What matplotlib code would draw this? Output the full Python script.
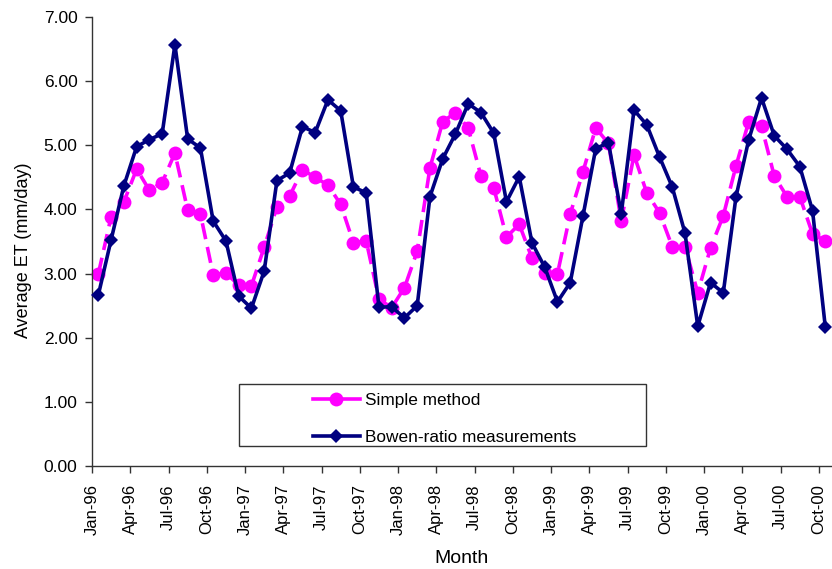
import numpy as np
import matplotlib
matplotlib.use("Agg")
import matplotlib.pyplot as plt
from matplotlib.patches import Rectangle

# monthly average ET, Jan-96 .. Oct-00 (mm/day)
simple_method = [3.00, 3.89, 4.12, 4.63, 4.30, 4.42, 4.88, 3.99, 3.93, 2.98, 3.01, 2.82,
                 2.81, 3.41, 4.04, 4.21, 4.62, 4.50, 4.38, 4.08, 3.48, 3.51, 2.60, 2.47,
                 2.78, 3.35, 4.65, 5.37, 5.51, 5.27, 4.52, 4.34, 3.57, 3.77, 3.24, 3.01,
                 3.00, 3.93, 4.59, 5.27, 5.03, 3.82, 4.85, 4.26, 3.95, 3.42, 3.42, 2.70,
                 3.40, 3.90, 4.68, 5.37, 5.30, 4.52, 4.20, 4.20, 3.62, 3.51]

bowen_ratio = [2.67, 3.53, 4.37, 4.98, 5.09, 5.18, 6.57, 5.10, 4.96, 3.82, 3.51, 2.65,
               2.46, 3.04, 4.45, 4.57, 5.29, 5.20, 5.71, 5.54, 4.35, 4.26, 2.48, 2.48,
               2.31, 2.50, 4.20, 4.79, 5.18, 5.65, 5.51, 5.19, 4.12, 4.51, 3.48, 3.10,
               2.56, 2.86, 3.90, 4.95, 5.04, 3.93, 5.55, 5.32, 4.82, 4.35, 3.63, 2.18,
               2.86, 2.70, 4.20, 5.09, 5.74, 5.15, 4.94, 4.67, 3.98, 2.17]

tick_labels = ["Jan-96", "Apr-96", "Jul-96", "Oct-96",
               "Jan-97", "Apr-97", "Jul-97", "Oct-97",
               "Jan-98", "Apr-98", "Jul-98", "Oct-98",
               "Jan-99", "Apr-99", "Jul-99", "Oct-99",
               "Jan-00", "Apr-00", "Jul-00", "Oct-00"]

plt.rcParams["font.family"] = ["Liberation Sans", "DejaVu Sans"]

fig = plt.figure(figsize=(8.32, 5.69), dpi=100)
ax = fig.add_axes([0.1106, 0.181, 0.889, 0.789])

# points sit mid-month, ticks at the start of each quarter
x = np.arange(len(simple_method)) + 0.5

ax.plot(x, simple_method, color="#ff00ff", lw=2.6, linestyle=(0, (4.5, 2.2)),
        marker="o", markersize=10, markeredgewidth=0, label="Simple method",
        clip_on=False, zorder=2)
ax.plot(x, bowen_ratio, color="#000080", lw=2.6, marker="D", markersize=7,
        markeredgewidth=0, label="Bowen-ratio measurements",
        clip_on=False, zorder=3)

ax.set_xlim(0, 58)
ax.set_ylim(0, 7)
ax.set_xticks(np.arange(0, 58, 3))
ax.set_xticklabels(tick_labels, rotation=90, fontsize=12)
ax.set_yticks(np.arange(0, 7.5, 1))
ax.set_yticklabels([f"{v:.2f}" for v in np.arange(0, 7.5, 1)], fontsize=12.5)

for side in ["top", "right"]:
    ax.spines[side].set_visible(False)
for side in ["left", "bottom"]:
    ax.spines[side].set_color("#333333")
    ax.spines[side].set_linewidth(1.0)
ax.tick_params(direction="out", length=5, width=1.0, color="#333333")
ax.tick_params(axis="x", pad=8)
ax.tick_params(axis="y", pad=5.5)

ax.set_xlabel("Month", fontsize=14, labelpad=11)
ax.set_ylabel("Average ET (mm/day)", fontsize=13, labelpad=8, y=0.481)

# legend box drawn separately so the entries can sit off-centre inside it
fig.patches.append(Rectangle((0.2873, 0.2162), 0.4892, 0.109,
                             transform=fig.transFigure, fill=False,
                             edgecolor="#333333", linewidth=1.0))
leg = ax.legend(loc="upper left", bbox_to_anchor=(313 / 832, 1 - 393 / 569),
                bbox_transform=fig.transFigure, fontsize=12.4, frameon=False,
                borderpad=0, borderaxespad=0, handlelength=2.7,
                handletextpad=0.3, labelspacing=1.28)
for h in leg.legend_handles:
    h.set_linestyle("-")

plt.savefig("out.png", dpi=100)
